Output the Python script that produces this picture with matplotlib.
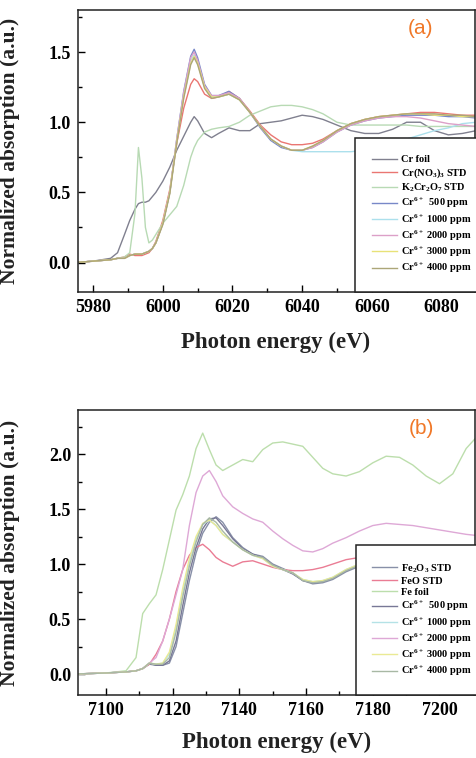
import matplotlib
matplotlib.use('Agg')
import matplotlib.pyplot as plt
from matplotlib.ticker import MultipleLocator

plt.rcParams['font.family'] = ['Liberation Serif', 'DejaVu Serif']
plt.rcParams['mathtext.fontset'] = 'custom'
plt.rcParams['mathtext.rm'] = 'Liberation Serif:bold'
plt.rcParams['mathtext.it'] = 'Liberation Serif:bold'
plt.rcParams['mathtext.bf'] = 'Liberation Serif:bold'

# ---------------- panel (a): Cr K-edge ----------------
energy_a = [5975, 5980, 5985, 5987, 5989, 5990.5, 5992, 5993, 5994, 5995, 5996, 5997, 5998,
            6000, 6002, 6004, 6006, 6008, 6009, 6010, 6012, 6014, 6016, 6019, 6022, 6025,
            6028, 6031, 6034, 6037, 6040, 6043, 6046, 6050, 6054, 6058, 6062, 6066, 6070,
            6074, 6078, 6082, 6086, 6090]

cr_foil = [0.0, 0.01, 0.03, 0.07, 0.2, 0.3, 0.38, 0.42, 0.43, 0.43, 0.44, 0.47, 0.5,
           0.58, 0.68, 0.8, 0.9, 1.0, 1.04, 1.01, 0.92, 0.89, 0.92, 0.96, 0.94, 0.94,
           0.99, 1.0, 1.01, 1.03, 1.05, 1.04, 1.02, 0.98, 0.94, 0.92, 0.92, 0.95, 1.0,
           1.0, 0.94, 0.91, 0.92, 0.94]
cr_no3 = [0.0, 0.01, 0.02, 0.03, 0.04, 0.06, 0.05, 0.05, 0.05, 0.06, 0.07, 0.1, 0.15,
          0.3, 0.52, 0.85, 1.1, 1.27, 1.31, 1.29, 1.2, 1.17, 1.18, 1.22, 1.17, 1.08,
          0.98, 0.91, 0.86, 0.84, 0.84, 0.85, 0.88, 0.94, 0.99, 1.02, 1.04, 1.05, 1.06,
          1.07, 1.07, 1.06, 1.05, 1.05]
k2cr2o7 = [0.0, 0.01, 0.02, 0.03, 0.04, 0.07, 0.35, 0.82, 0.6, 0.25, 0.14, 0.16, 0.2,
           0.28, 0.34, 0.4, 0.55, 0.75, 0.82, 0.87, 0.93, 0.95, 0.96, 0.97, 1.0, 1.05,
           1.08, 1.11, 1.12, 1.12, 1.11, 1.09, 1.06, 1.0, 0.98, 0.98, 0.98, 0.98, 0.98,
           0.97, 0.97, 0.97, 0.97, 0.97]
cr6_500_a = [0.0, 0.01, 0.02, 0.03, 0.03, 0.05, 0.06, 0.06, 0.06, 0.07, 0.08, 0.1, 0.14,
             0.28, 0.5, 0.88, 1.22, 1.47, 1.52, 1.46, 1.27, 1.19, 1.19, 1.22, 1.17, 1.07,
             0.96, 0.87, 0.82, 0.8, 0.8, 0.82, 0.86, 0.93, 0.98, 1.01, 1.03, 1.04, 1.05,
             1.05, 1.05, 1.04, 1.04, 1.03]
cr6_1000_a = [0.0, 0.01, 0.02, 0.03, 0.03, 0.05, 0.06, 0.06, 0.06, 0.07, 0.08, 0.1, 0.14,
              0.28, 0.5, 0.87, 1.2, 1.44, 1.48, 1.43, 1.25, 1.18, 1.18, 1.2, 1.16, 1.07,
              0.97, 0.88, 0.83, 0.8, 0.79, 0.79, 0.79, 0.79, 0.79, 0.8, 0.82, 0.85, 0.88,
              0.91, 0.94, 0.96, 0.99, 1.0]
cr6_2000_a = [0.0, 0.01, 0.02, 0.03, 0.03, 0.05, 0.06, 0.06, 0.06, 0.07, 0.08, 0.1, 0.14,
              0.28, 0.5, 0.88, 1.21, 1.46, 1.5, 1.44, 1.26, 1.19, 1.19, 1.21, 1.17, 1.07,
              0.97, 0.88, 0.83, 0.8, 0.8, 0.82, 0.86, 0.93, 0.98, 1.01, 1.03, 1.04, 1.04,
              1.03, 1.01, 0.99, 0.98, 0.97]
cr6_3000_a = [0.0, 0.01, 0.02, 0.03, 0.03, 0.05, 0.06, 0.06, 0.06, 0.07, 0.08, 0.1, 0.14,
              0.28, 0.5, 0.86, 1.18, 1.42, 1.47, 1.42, 1.25, 1.18, 1.18, 1.2, 1.16, 1.07,
              0.97, 0.88, 0.83, 0.8, 0.8, 0.83, 0.87, 0.94, 0.99, 1.02, 1.04, 1.05, 1.06,
              1.06, 1.05, 1.05, 1.04, 1.04]
cr6_4000_a = [0.0, 0.01, 0.02, 0.03, 0.03, 0.05, 0.06, 0.06, 0.06, 0.07, 0.08, 0.1, 0.14,
              0.27, 0.49, 0.85, 1.17, 1.41, 1.46, 1.41, 1.24, 1.17, 1.18, 1.2, 1.16, 1.07,
              0.97, 0.88, 0.83, 0.8, 0.8, 0.83, 0.87, 0.94, 0.99, 1.02, 1.04, 1.05, 1.06,
              1.06, 1.06, 1.05, 1.05, 1.04]

series_a = [cr_foil, cr_no3, k2cr2o7, cr6_500_a, cr6_1000_a, cr6_2000_a, cr6_3000_a, cr6_4000_a]
labels_a = ['Cr foil', 'Cr(NO$_3$)$_3$ STD', 'K$_2$Cr$_2$O$_7$ STD',
            'Cr$^{6+}$  500 ppm', 'Cr$^{6+}$ 1000 ppm', 'Cr$^{6+}$ 2000 ppm',
            'Cr$^{6+}$ 3000 ppm', 'Cr$^{6+}$ 4000 ppm']
colors_a = ['#80808f', '#ea7672', '#b8dab4', '#7888c8', '#ace0ec', '#dca0c8', '#e8e278', '#aca678']

# ---------------- panel (b): Fe K-edge ----------------
energy_b = [7090, 7100, 7106, 7109, 7111, 7113, 7115, 7117, 7119, 7121, 7123, 7125, 7127,
            7129, 7131, 7133, 7135, 7138, 7141, 7144, 7147, 7150, 7153, 7156, 7159, 7162,
            7165, 7168, 7172, 7176, 7180, 7184, 7188, 7192, 7196, 7200, 7204, 7208, 7211]

fe2o3 = [0.0, 0.01, 0.02, 0.03, 0.05, 0.09, 0.08, 0.08, 0.1, 0.25, 0.55, 0.85, 1.1,
         1.28, 1.38, 1.43, 1.38, 1.24, 1.15, 1.09, 1.07, 1.0, 0.96, 0.92, 0.85, 0.82,
         0.83, 0.86, 0.93, 0.98, 1.01, 1.02, 1.02, 1.0, 0.99, 0.98, 0.99, 1.01, 1.02]
feo = [0.0, 0.01, 0.02, 0.03, 0.05, 0.09, 0.18, 0.3, 0.5, 0.75, 0.95, 1.08, 1.15,
       1.18, 1.13, 1.06, 1.02, 0.98, 1.02, 1.03, 1.0, 0.97, 0.95, 0.94, 0.94, 0.95,
       0.97, 1.0, 1.04, 1.06, 1.08, 1.09, 1.09, 1.08, 1.08, 1.08, 1.07, 1.07, 1.07]
fe_foil = [0.0, 0.01, 0.03, 0.15, 0.55, 0.64, 0.72, 0.95, 1.22, 1.49, 1.63, 1.8, 2.05,
           2.19, 2.04, 1.9, 1.85, 1.9, 1.95, 1.93, 2.04, 2.1, 2.11, 2.09, 2.07, 1.97,
           1.87, 1.82, 1.8, 1.84, 1.92, 1.98, 1.97, 1.9, 1.8, 1.73, 1.82, 2.05, 2.15]
cr6_500_b = [0.0, 0.01, 0.02, 0.03, 0.05, 0.1, 0.08, 0.08, 0.12, 0.3, 0.62, 0.92, 1.15,
             1.32, 1.41, 1.42, 1.35, 1.23, 1.14, 1.09, 1.06, 0.99, 0.95, 0.91, 0.85, 0.83,
             0.84, 0.87, 0.94, 0.99, 1.02, 1.03, 1.02, 1.0, 0.99, 0.98, 0.99, 1.01, 1.02]
cr6_1000_b = [0.0, 0.01, 0.02, 0.03, 0.05, 0.1, 0.09, 0.1, 0.18, 0.42, 0.75, 1.02, 1.23,
              1.36, 1.4, 1.35, 1.27, 1.2, 1.13, 1.08, 1.05, 0.98, 0.95, 0.92, 0.86, 0.84,
              0.85, 0.88, 0.95, 1.0, 1.03, 1.04, 1.03, 1.01, 1.0, 0.99, 1.0, 1.02, 1.03]
cr6_2000_b = [0.0, 0.01, 0.02, 0.03, 0.05, 0.1, 0.15, 0.3, 0.5, 0.72, 0.95, 1.35, 1.65,
              1.8, 1.85, 1.75, 1.62, 1.52, 1.46, 1.41, 1.38, 1.3, 1.23, 1.17, 1.12, 1.11,
              1.14, 1.19, 1.24, 1.3, 1.35, 1.37, 1.36, 1.35, 1.33, 1.31, 1.29, 1.27, 1.26]
cr6_3000_b = [0.0, 0.01, 0.02, 0.03, 0.05, 0.1, 0.09, 0.1, 0.2, 0.45, 0.78, 1.05, 1.25,
              1.37, 1.4, 1.35, 1.27, 1.2, 1.13, 1.08, 1.05, 0.98, 0.95, 0.92, 0.86, 0.84,
              0.85, 0.88, 0.95, 1.0, 1.03, 1.04, 1.03, 1.01, 1.0, 0.99, 1.0, 1.02, 1.03]
cr6_4000_b = [0.0, 0.01, 0.02, 0.03, 0.05, 0.1, 0.09, 0.09, 0.15, 0.38, 0.7, 0.98, 1.2,
              1.36, 1.42, 1.38, 1.3, 1.2, 1.13, 1.08, 1.06, 0.99, 0.95, 0.92, 0.85, 0.83,
              0.84, 0.87, 0.94, 0.99, 1.02, 1.03, 1.02, 1.0, 0.99, 0.98, 0.99, 1.01, 1.02]

series_b = [fe2o3, feo, fe_foil, cr6_500_b, cr6_1000_b, cr6_2000_b, cr6_3000_b, cr6_4000_b]
labels_b = ['Fe$_2$O$_3$ STD', 'FeO STD', 'Fe foil',
            'Cr$^{6+}$  500 ppm', 'Cr$^{6+}$ 1000 ppm', 'Cr$^{6+}$ 2000 ppm',
            'Cr$^{6+}$ 3000 ppm', 'Cr$^{6+}$ 4000 ppm']
colors_b = ['#8890a8', '#ea7c94', '#bcdeac', '#787896', '#b4e2e6', '#dea8d6', '#eaea94', '#a8b8a4']

W, H = 476, 758
fig = plt.figure(figsize=(W / 100, H / 100), dpi=100)


def make_panel(rect, energy, series, labels, colors, xlim, ylim, yticks, tag, tag_y, leg_box):
    ax = fig.add_axes(rect)
    for y, lab, col in zip(series, labels, colors):
        ax.plot(energy, y, color=col, lw=1.0, label=lab)
    ax.set_xlim(*xlim)
    ax.set_ylim(*ylim)
    ax.xaxis.set_major_locator(MultipleLocator(20))
    ax.xaxis.set_minor_locator(MultipleLocator(10))
    ax.set_yticks(yticks)
    ax.yaxis.set_minor_locator(MultipleLocator(0.25))
    ax.tick_params(which='both', direction='in', top=False, right=False)
    ax.tick_params(which='major', length=5, width=1, labelsize=13, pad=5)
    ax.tick_params(which='minor', length=3, width=1)
    ax.set_yticklabels(['%.1f' % t for t in yticks])
    for lab in ax.get_xticklabels() + ax.get_yticklabels():
        lab.set_fontweight('bold')
    for sp in ax.spines.values():
        sp.set_linewidth(1.1)
        sp.set_color('#222222')
    ax.set_xlabel('Photon energy (eV)', fontsize=16.5, fontweight='bold', color='#222222')
    ax.set_ylabel('Normalized absorption (a.u.)', fontsize=15.5, fontweight='bold', color='#222222')
    ax.text(0.865, tag_y, tag, transform=ax.transAxes, color='#f07828', fontsize=15,
            family='Liberation Sans', ha='center', va='center')
    leg = ax.legend(loc='lower left', bbox_to_anchor=leg_box, borderaxespad=0,
                    prop={'weight': 'bold', 'size': 7.5}, frameon=True, fancybox=False,
                    edgecolor='#222222', framealpha=1, handlelength=2.4, handletextpad=0.35,
                    labelspacing=0.18, borderpad=1.6)
    leg.get_frame().set_linewidth(1.1)
    return ax


ax_a = make_panel([77.5 / W, 1 - 292 / H, 397 / W, 282 / H], energy_a, series_a, labels_a,
                  colors_a, (5975.5, 6089.5), (-0.21, 1.8), [0.0, 0.5, 1.0, 1.5], '(a)', 0.935,
                  (0.70, 0.0))
ax_a.yaxis.set_label_coords(-0.145, 0.5)
ax_a.xaxis.set_label_coords(0.5, -0.14)

ax_b = make_panel([78 / W, 1 - 695 / H, 396.5 / W, 285 / H], energy_b, series_b, labels_b,
                  colors_b, (7091.6, 7210.5), (-0.19, 2.4), [0.0, 0.5, 1.0, 1.5, 2.0], '(b)', 0.935,
                  (0.70, 0.0))
ax_b.yaxis.set_label_coords(-0.146, 0.5)
ax_b.xaxis.set_label_coords(0.5, -0.13)

fig.savefig('out.png', dpi=100)
